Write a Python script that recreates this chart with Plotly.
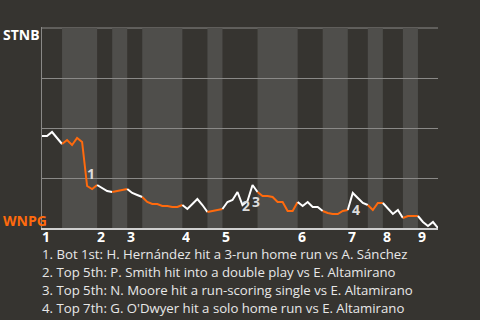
import plotly.graph_objects as go

# ---- data ----
away_team = "STNB"
home_team = "WNPG"
# STNB win probability after each plate appearance (index 0..79)
win_prob = [0.46, 0.46, 0.48, 0.45, 0.42, 0.44, 0.415, 0.45, 0.43, 0.21,
            0.195, 0.215, 0.20, 0.185, 0.18, 0.185, 0.19, 0.195, 0.175, 0.165,
            0.155, 0.13, 0.12, 0.12, 0.11, 0.11, 0.105, 0.105, 0.115, 0.095,
            0.12, 0.145, 0.115, 0.08, 0.085, 0.09, 0.095, 0.13, 0.14, 0.18,
            0.115, 0.135, 0.215, 0.18, 0.16, 0.16, 0.155, 0.13, 0.13, 0.085,
            0.085, 0.13, 0.11, 0.13, 0.105, 0.105, 0.085, 0.075, 0.07, 0.07,
            0.085, 0.09, 0.175, 0.15, 0.125, 0.115, 0.09, 0.125, 0.125, 0.095,
            0.07, 0.09, 0.05, 0.06, 0.06, 0.06, 0.03, 0.01, 0.03, 0.0]
# play index at which each half-inning starts (last entry = end of game)
half_starts = [0, 4, 11, 14, 17, 20, 28, 33, 36, 43, 51, 56, 61, 65, 68, 72, 75, 79]
inning_labels = ["1", "2", "3", "4", "5", "6", "7", "8", "9"]
event_index = [9, 40, 42, 62]
event_texts = [
    "1. Bot 1st: H. Hernández hit a 3-run home run vs A. Sánchez",
    "2. Top 5th: P. Smith hit into a double play vs E. Altamirano",
    "3. Top 5th: N. Moore hit a run-scoring single vs E. Altamirano",
    "4. Top 7th: G. O'Dwyer hit a solo home run vs E. Altamirano",
]
grid_levels = [0.25, 0.5, 0.75, 1.0]

# ---- style ----
BG = "#363430"
BAND = "#4f4e4b"
GRID = "#8a8987"
ORANGE = "#ff6a0d"
WHITE = "#ffffff"
FONT = "Open Sans"

fig = go.Figure()

shapes = []
for h in range(len(half_starts) - 1):
    if h % 2 == 1:
        shapes.append(dict(type="rect", xref="x", yref="y",
                           x0=half_starts[h], x1=half_starts[h + 1], y0=0, y1=1,
                           fillcolor=BAND, line_width=0, layer="below"))
# top gridline (plotly omits gridlines at the range edge)
shapes.append(dict(type="line", xref="paper", yref="y", x0=0, x1=1,
                   y0=grid_levels[-1], y1=grid_levels[-1],
                   line=dict(color=GRID, width=1), layer="below"))

for h in range(len(half_starts) - 1):
    a, b = half_starts[h], half_starts[h + 1]
    xs = list(range(a, b + 1))
    ys = win_prob[a:b + 1]
    fig.add_trace(go.Scatter(x=xs, y=ys, mode="lines",
                             line=dict(color=ORANGE if h % 2 else WHITE, width=2),
                             hoverinfo="skip", showlegend=False))

ann = []
for i, lab in enumerate(inning_labels):
    ann.append(dict(x=half_starts[2 * i], y=-0.039, xref="x", yref="paper",
                    text=lab, showarrow=False, xanchor="left", yanchor="middle",
                    borderpad=0, height=14,
                    font=dict(family=FONT, size=14, color=WHITE, weight="bold"),
                    xshift=-1))

ev_shift = [(4, 13), (3, 0), (3, -16.5), (3, -16)]
for k, idx in enumerate(event_index):
    ann.append(dict(x=idx, y=win_prob[idx], xref="x", yref="y",
                    text=str(k + 1), showarrow=False, xanchor="center", yanchor="middle",
                    xshift=ev_shift[k][0], yshift=ev_shift[k][1], borderpad=0,
                    font=dict(family=FONT, size=14, color="#dcdcdc", weight="bold")))

for k, t in enumerate(event_texts):
    ann.append(dict(x=0, y=-0.13 - 0.09 * k, xref="paper", yref="paper",
                    text=t, showarrow=False, xanchor="left", yanchor="middle",
                    xshift=-1, borderpad=0,
                    font=dict(family=FONT, size=13.2, color="#e8e8e8")))

ann.append(dict(x=-0.1, y=0.965, xref="paper", yref="paper", text=away_team,
                showarrow=False, xanchor="left", yanchor="middle", borderpad=0,
                height=14,
                font=dict(family=FONT, size=14, color=WHITE, weight="bold")))
ann.append(dict(x=-0.1, y=0.04, xref="paper", yref="paper", text=home_team,
                showarrow=False, xanchor="left", yanchor="middle", borderpad=0,
                height=14,
                font=dict(family=FONT, size=14, color=ORANGE, weight="bold")))

fig.update_layout(
    width=480, height=320,
    margin=dict(l=42, r=42, t=27, b=92),
    paper_bgcolor=BG, plot_bgcolor=BG,
    shapes=shapes, annotations=ann,
    xaxis=dict(range=[0, 79], showgrid=False, zeroline=False, showticklabels=False,
               showline=True, linecolor="#cfcfcf", linewidth=2, ticks=""),
    yaxis=dict(range=[0, 1.005], tickvals=grid_levels, showgrid=True,
               gridcolor=GRID, gridwidth=1, zeroline=False, showticklabels=False,
               showline=True, linecolor=GRID, linewidth=1, ticks=""),
)

fig.write_html("out.html", config={"displayModeBar": False})
